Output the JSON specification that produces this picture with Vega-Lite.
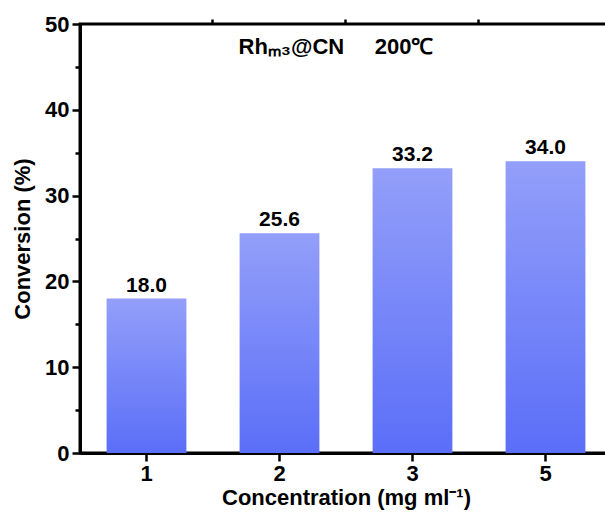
{
  "$schema": "https://vega.github.io/schema/vega-lite/v6.json",
  "width": 532,
  "height": 429,
  "autosize": {"type": "none"},
  "padding": {"left": 80, "top": 24, "right": 0, "bottom": 62},
  "background": "white",
  "config": {
    "font": "Liberation Sans",
    "view": {"stroke": "black", "strokeWidth": 3},
    "axis": {"domainColor": "black", "domainWidth": 3, "tickColor": "black", "tickWidth": 2.5, "labelFont": "Liberation Sans", "labelFontWeight": "bold", "labelColor": "black", "titleFont": "Liberation Sans", "titleFontWeight": "bold", "titleColor": "black", "grid": false}
  },
  "title": {"text": "Rhₘ₃@CN\u00a0\u00a0\u00a0\u00a0\u00a0200℃", "fontSize": 22, "fontWeight": "bold", "font": "Liberation Sans", "color": "black", "offset": -46, "dx": -10},
  "data": {"values": [
    {"concentration": "1", "conversion": 18.0},
    {"concentration": "2", "conversion": 25.6},
    {"concentration": "3", "conversion": 33.2},
    {"concentration": "5", "conversion": 34.0}
  ]},
  "encoding": {
    "x": {"field": "concentration", "type": "nominal", "sort": null,
      "scale": {"paddingInner": 0.4, "paddingOuter": 0.2}},
    "y": {"field": "conversion", "type": "quantitative", "scale": {"domain": [0, 50], "nice": false}}
  },
  "layer": [
    {
      "mark": {"type": "bar", "color": {"gradient": "linear", "x1": 0, "y1": 0, "x2": 0, "y2": 1, "stops": [{"offset": 0, "color": "#939ff9"}, {"offset": 1, "color": "#5b6ef8"}]}},
      "encoding": {
        "x": {"field": "concentration", "type": "nominal", "sort": null,
          "axis": {"title": "Concentration (mg ml⁻¹)", "labelAngle": 0, "labelFontSize": 22, "titleFontSize": 22, "tickSize": 8, "labelPadding": 2, "titlePadding": 3}},
        "y": {"field": "conversion", "type": "quantitative",
          "axis": {"title": "Conversion (%)", "values": [0, 10, 20, 30, 40, 50], "labelFontSize": 22, "titleFontSize": 22, "tickSize": 8, "labelPadding": 3, "titlePadding": 10}}
      }
    },
    {
      "mark": {"type": "text", "dy": -13, "fontSize": 21, "fontWeight": "bold", "font": "Liberation Sans", "color": "black"},
      "encoding": {
        "x": {"field": "concentration", "type": "nominal", "sort": null,
          "axis": {"title": null, "labels": false, "bandPosition": 1.3333, "tickSize": 5, "domain": false}},
        "y": {"field": "conversion", "type": "quantitative",
          "axis": {"orient": "left", "title": null, "labels": false, "values": [5, 15, 25, 35, 45], "tickSize": 5, "domain": false}},
        "text": {"field": "conversion", "type": "quantitative", "format": ".1f"}
      }
    }
  ],
  "resolve": {"axis": {"x": "independent", "y": "independent"}}
}
